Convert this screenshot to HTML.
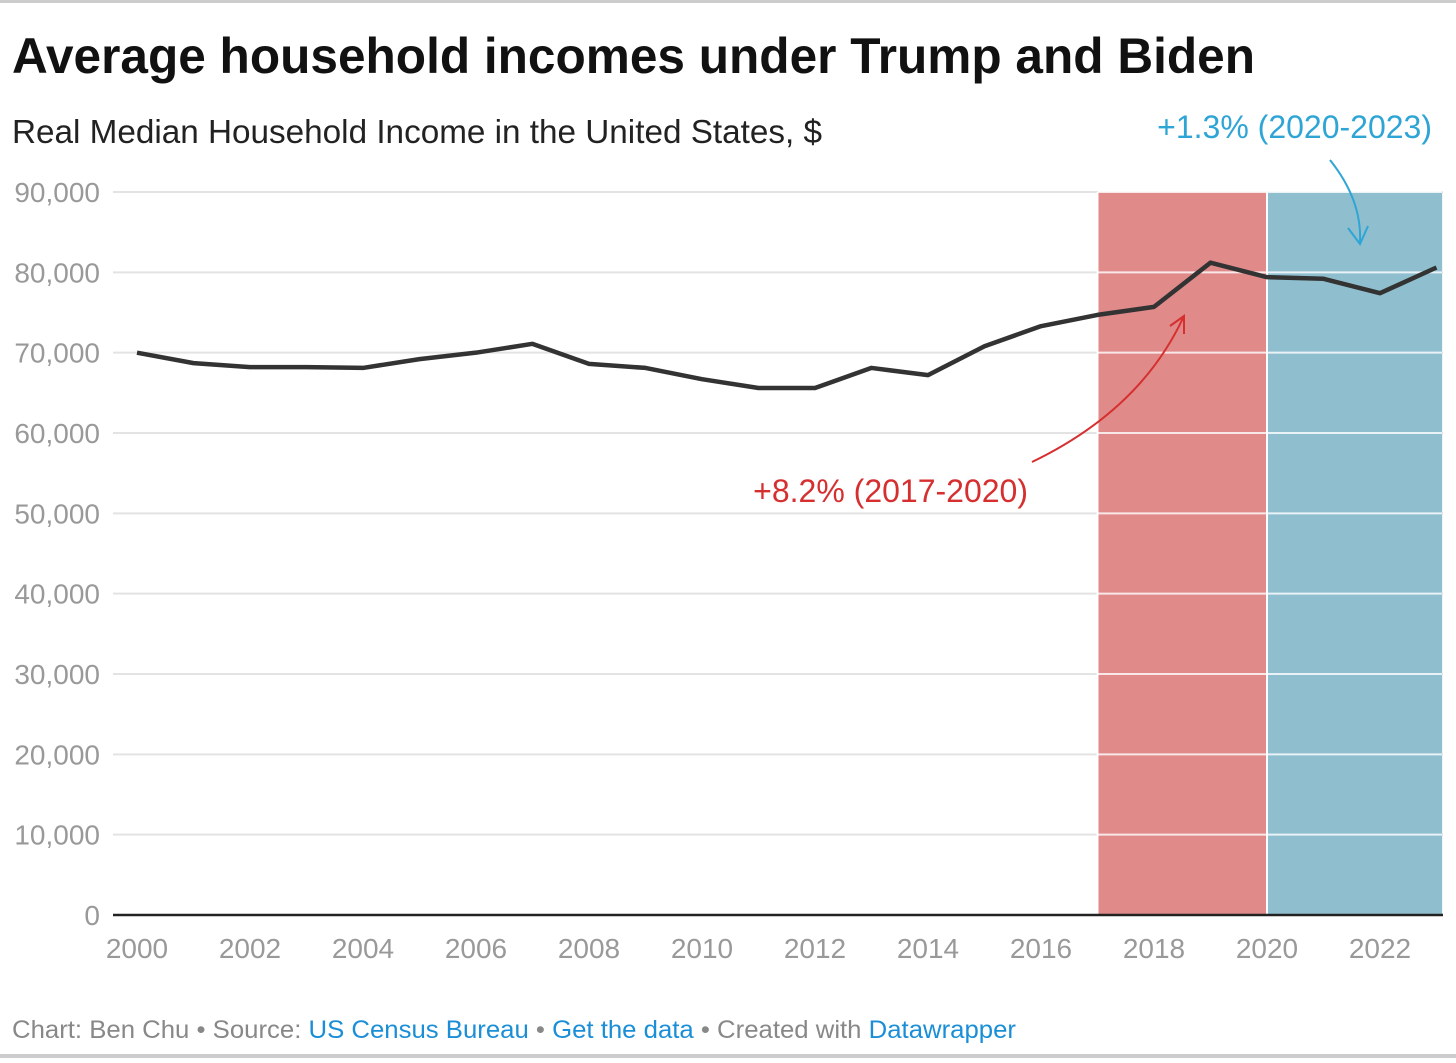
<!DOCTYPE html>
<html><head><meta charset="utf-8"><style>
body{margin:0;background:#fff;width:1456px;height:1058px;overflow:hidden;font-family:"Liberation Sans",sans-serif}
</style></head><body>
<svg width="1456" height="1058" viewBox="0 0 1456 1058" font-family="Liberation Sans, sans-serif">
<rect x="0" y="0" width="1456" height="3" fill="#ccc"/>
<rect x="0" y="1054" width="1456" height="4" fill="#ccc"/>
<text x="12" y="73" font-size="50" font-weight="bold" fill="#111" textLength="1243" lengthAdjust="spacingAndGlyphs">Average household incomes under Trump and Biden</text>
<text x="12" y="143" font-size="33" fill="#222" textLength="810" lengthAdjust="spacingAndGlyphs">Real Median Household Income in the United States, $</text>
<g id="grid"></g>
<g id="shade"></g>
<g id="gridover"></g>
<g id="ticks"></g>
<path id="line" fill="none" stroke="#333" stroke-width="4.5" stroke-linejoin="round"/>
<line x1="113" y1="915" x2="1443" y2="915" stroke="#222" stroke-width="2.5"/>
<text x="1432" y="138" font-size="32" fill="#2fa5d6" text-anchor="end">+1.3% (2020-2023)</text>
<path d="M1330,160 Q1362,200 1360,242 M1348,228 L1360,244 L1368,226" fill="none" stroke="#2fa5d6" stroke-width="2"/>
<text x="1028" y="502" font-size="32" fill="#d62f2f" text-anchor="end">+8.2% (2017-2020)</text>
<path d="M1032,462 Q1140,410 1183,318 M1170,326 L1184,316 L1184,334" fill="none" stroke="#d62f2f" stroke-width="2"/>
<text x="12" y="1038" font-size="25" fill="#888" textLength="1004" lengthAdjust="spacingAndGlyphs">Chart: Ben Chu • Source: <tspan fill="#1a8ed6">US Census Bureau</tspan> • <tspan fill="#1a8ed6">Get the data</tspan> • Created with <tspan fill="#1a8ed6">Datawrapper</tspan></text>
</svg>
<script>
const years=[2000,2001,2002,2003,2004,2005,2006,2007,2008,2009,2010,2011,2012,2013,2014,2015,2016,2017,2018,2019,2020,2021,2022,2023];
const incomes=[70000,68700,68200,68200,68100,69200,70000,71100,68600,68100,66700,65600,65600,68100,67200,70800,73300,74700,75700,81200,79400,79200,77400,80600];
const yTicks=[0,10000,20000,30000,40000,50000,60000,70000,80000,90000];
const xTicks=[2000,2002,2004,2006,2008,2010,2012,2014,2016,2018,2020,2022];
const terms=[{from:2017,to:2020,color:"#e08a8a",name:"trump-term"},{from:2020,to:2023.1,color:"#8fbfcf",name:"biden-term"}];
const NS="http://www.w3.org/2000/svg";
const x=v=>137+(v-2000)*56.5;
const y=v=>915-v*(723/90000);
function mk(tag,attrs,parent,txt){const e=document.createElementNS(NS,tag);for(const k in attrs)e.setAttribute(k,attrs[k]);if(txt!=null)e.textContent=txt;document.getElementById(parent).appendChild(e);return e;}
yTicks.forEach(t=>{
  if(t>0){const g=mk('line',{x1:113,x2:1443,y1:y(t),y2:y(t),stroke:'#e3e3e3','stroke-width':2},'grid');
  
  }
  const l=mk('text',{x:100,y:y(t)+10,'font-size':28,fill:'#999','text-anchor':'end'},'ticks',t.toLocaleString('en-US'));
  
  
});
terms.forEach(p=>{
  const r=mk('rect',{x:x(p.from),y:y(90000),width:x(p.to)-x(p.from),height:y(0)-y(90000),fill:p.color},'shade');
  
  
  const w=mk('line',{x1:x(p.from),x2:x(p.from),y1:y(90000),y2:y(0),stroke:'#fff','stroke-width':2},'gridover');
  
  
  yTicks.forEach(t=>{if(t>0){const g=mk('line',{x1:x(p.from),x2:x(p.to),y1:y(t),y2:y(t),stroke:'#fff','stroke-width':2,'stroke-opacity':0.8},'gridover');
  
  }});
});
xTicks.forEach(t=>{
  const l=mk('text',{x:x(t),y:958,'font-size':28,fill:'#999','text-anchor':'middle'},'ticks',String(t));
  
  
});
document.getElementById('line').setAttribute('d',years.map((yr,i)=>(i?'L':'M')+x(yr)+','+y(incomes[i])).join(' '));
</script>
</body></html>
